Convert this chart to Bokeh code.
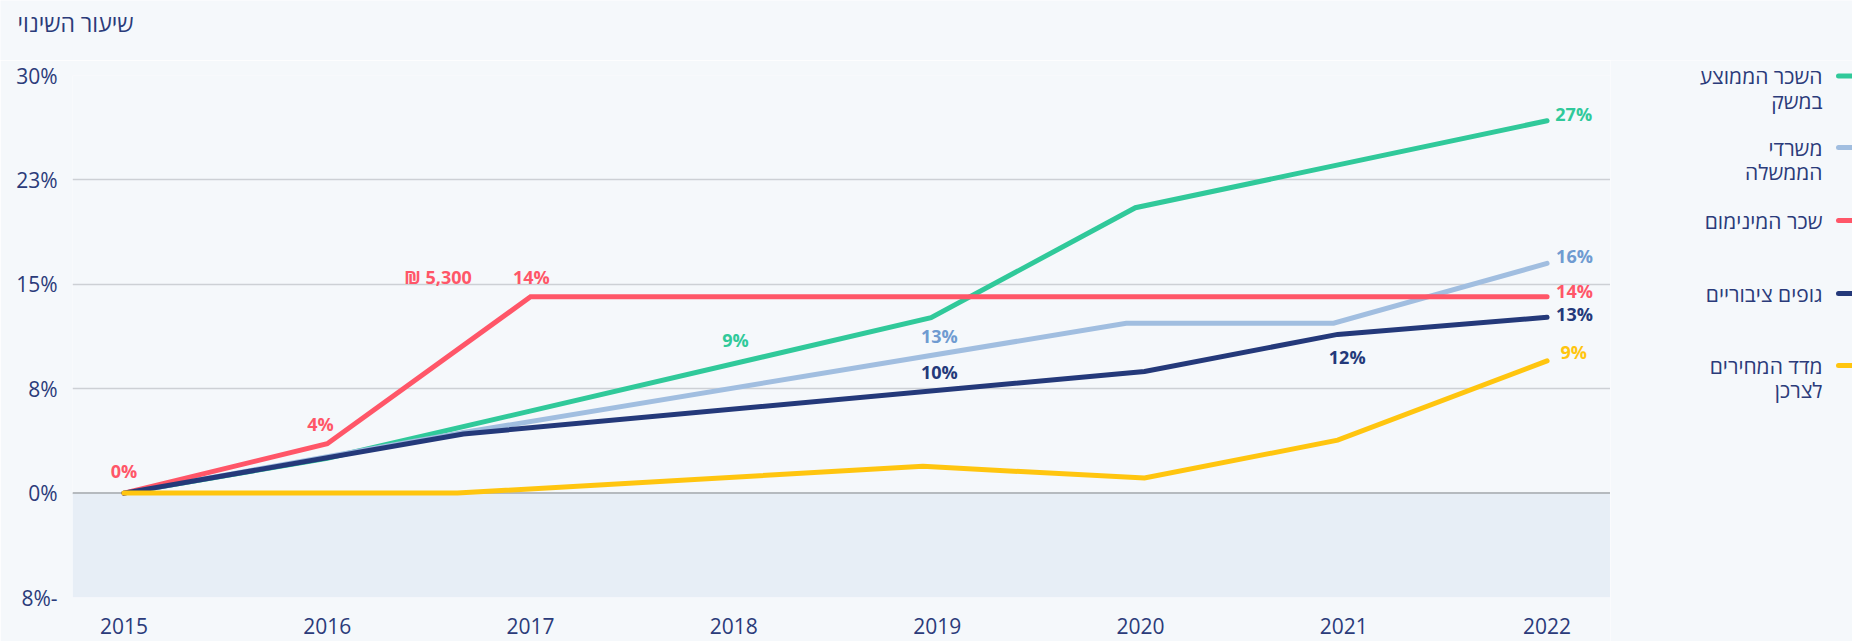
from bokeh.plotting import figure
from bokeh.models import Range1d, FixedTicker, BoxAnnotation, Span, ColumnDataSource
from bokeh.layouts import row, column
from bokeh.embed import file_html
from bokeh.resources import INLINE
from bokeh.core.properties import value

# ---------------- data ----------------
years = [2015, 2016, 2017, 2018, 2019, 2020, 2021, 2022]
year_labels = ["2015", "2016", "2017", "2018", "2019", "2020", "2021", "2022"]
y_ticks = [-7.5, 0, 7.5, 15, 22.5, 30]
y_tick_labels = ["8%-", "0%", "8%", "15%", "23%", "30%"]

avg_wage_x = [2015, 2016, 2018.97, 2019.975, 2022]
avg_wage_y = [0, 2.5, 12.6, 20.5, 26.75]

gov_x = [2015, 2016.67, 2019.93, 2020.95, 2022]
gov_y = [0, 4.35, 12.2, 12.2, 16.5]

min_wage_x = [2015, 2016, 2017, 2018, 2019, 2020, 2021, 2022]
min_wage_y = [0, 3.55, 14.1, 14.1, 14.1, 14.1, 14.1, 14.1]

public_x = [2015, 2016.67, 2020.02, 2020.97, 2022]
public_y = [0, 4.25, 8.74, 11.4, 12.63]

cpi_x = [2015, 2016.64, 2018.93, 2020.02, 2020.97, 2022]
cpi_y = [0, 0, 1.92, 1.08, 3.8, 9.5]

legend_names = ["השכר הממוצע\nבמשק", "משרדי\nהממשלה", "שכר המינימום", "גופים ציבוריים", "מדד המחירים\nלצרכן"]
y_title = "שיעור השינוי"

# value labels (text, x in years, y in %)
lbl_text = ["0%", "4%", "₪ 5,300", "14%", "9%", "13%", "10%", "12%", "27%", "16%", "14%", "13%", "9%"]
lbl_x = [2015.0, 2015.967, 2016.545, 2017.004, 2018.008, 2019.011, 2019.011, 2021.017,
         2022.131, 2022.135, 2022.135, 2022.135, 2022.131]
lbl_y = [1.58, 4.93, 15.56, 15.56, 11.01, 11.32, 8.69, 9.76, 27.24, 17.01, 14.55, 12.88, 10.12]

# ---------------- style ----------------
FONT = "Open Sans"
BG = "#f5f8fb"
TXT = "#2b3b7a"
GREEN = "#30c99a"
LBLUE = "#a1bee0"
LBLUE_TXT = "#6f9bd1"
RED = "#ff5668"
NAVY = "#24397a"
YELLOW = "#ffc50f"

lbl_color = [RED, RED, RED, RED, GREEN, LBLUE_TXT, NAVY, NAVY, GREEN, LBLUE_TXT, RED, NAVY, YELLOW]

W, H = 1852, 641
HEAD = 60            # height of the strip holding the axis title
PLOT_W = 1610
TOP, BOTTOM = 75 - HEAD, 44
BODY_H = H - HEAD

# ---------------- title strip (page pixel coordinates) ----------------
head = figure(width=W, height=HEAD, x_range=Range1d(0, W), y_range=Range1d(HEAD, 0),
              output_backend="svg", toolbar_location=None,
              x_axis_location=None, y_axis_location=None, min_border=0)
head.frame_align = False
head.background_fill_color = BG
head.border_fill_color = BG
head.outline_line_color = None
head.grid.visible = False
head.text(x=[133], y=[22], text=[y_title], text_font=value(FONT), text_font_size="23px",
          text_color=TXT, text_align="right", text_baseline="middle")

# ---------------- main chart ----------------
p = figure(width=PLOT_W, height=BODY_H,
           x_range=Range1d(2014.747, 2022.312), y_range=Range1d(-7.5, 30),
           output_backend="svg", toolbar_location=None,
           min_border_left=72, min_border_right=0, min_border_top=TOP, min_border_bottom=BOTTOM)
p.background_fill_color = BG
p.border_fill_color = BG
p.outline_line_color = None

p.add_layout(BoxAnnotation(top=0, fill_color="#e7eef6", fill_alpha=1, line_color=None, level="underlay"))

p.xgrid.visible = False
p.ygrid.ticker = FixedTicker(ticks=y_ticks)
p.ygrid.grid_line_color = "#cdd0d5"
p.ygrid.grid_line_width = 1.5
p.add_layout(Span(location=0, dimension="width", line_color="#a5a8ac", line_width=1.5, level="underlay"))

p.xaxis.ticker = FixedTicker(ticks=years)
p.xaxis.major_label_overrides = {y: s for y, s in zip(years, year_labels)}
p.yaxis.ticker = FixedTicker(ticks=y_ticks)
p.yaxis.major_label_overrides = {t: s for t, s in zip(y_ticks, y_tick_labels)}
for ax in (p.xaxis, p.yaxis):
    ax.axis_line_color = None
    ax.major_tick_line_color = None
    ax.minor_tick_line_color = None
    ax.major_tick_out = 0
    ax.major_tick_in = 0
    ax.major_label_text_font = FONT
    ax.major_label_text_font_size = "21px"
    ax.major_label_text_color = TXT
p.yaxis.major_label_standoff = 15
p.xaxis.major_label_standoff = 20
p.xaxis.major_label_text_line_height = 0.7

for xs, ys, c in [(avg_wage_x, avg_wage_y, GREEN), (gov_x, gov_y, LBLUE),
                  (min_wage_x, min_wage_y, RED), (public_x, public_y, NAVY),
                  (cpi_x, cpi_y, YELLOW)]:
    p.line(xs, ys, line_color=c, line_width=5, line_cap="round", line_join="miter")

src = ColumnDataSource(dict(x=lbl_x, y=lbl_y, t=lbl_text, c=lbl_color))
p.text(x="x", y="y", text="t", text_color="c", source=src,
       text_font=value(FONT), text_font_size="18px", text_font_style="bold",
       text_align="center", text_baseline="middle")

# ---------------- legend panel (page pixel coordinates) ----------------
leg = figure(width=W - PLOT_W, height=BODY_H, x_range=Range1d(PLOT_W, W), y_range=Range1d(H, HEAD),
             output_backend="svg", toolbar_location=None,
             x_axis_location=None, y_axis_location=None, min_border=0)
leg.frame_align = False
leg.background_fill_color = BG
leg.border_fill_color = BG
leg.outline_line_color = None
leg.grid.visible = False

leg_colors = [GREEN, LBLUE, RED, NAVY, YELLOW]
leg_y = [75.5, 147, 220, 293, 365]
leg.segment(x0=[1838] * 5, y0=leg_y, x1=[1860] * 5, y1=leg_y, line_color=leg_colors,
            line_width=5, line_cap="round")
tx, ty, tt = [], [], []
for name, y0 in zip(legend_names, leg_y):
    for i, line in enumerate(name.split("\n")):
        tx.append(1822)
        ty.append(y0 + i * 24.5)
        tt.append(line)
leg.text(x=tx, y=ty, text=tt, text_font=value(FONT), text_font_size="21px",
         text_color=TXT, text_align="right", text_baseline="middle")

layout = column(head, row(p, leg))
open("out.html", "w").write(file_html(layout, INLINE))
